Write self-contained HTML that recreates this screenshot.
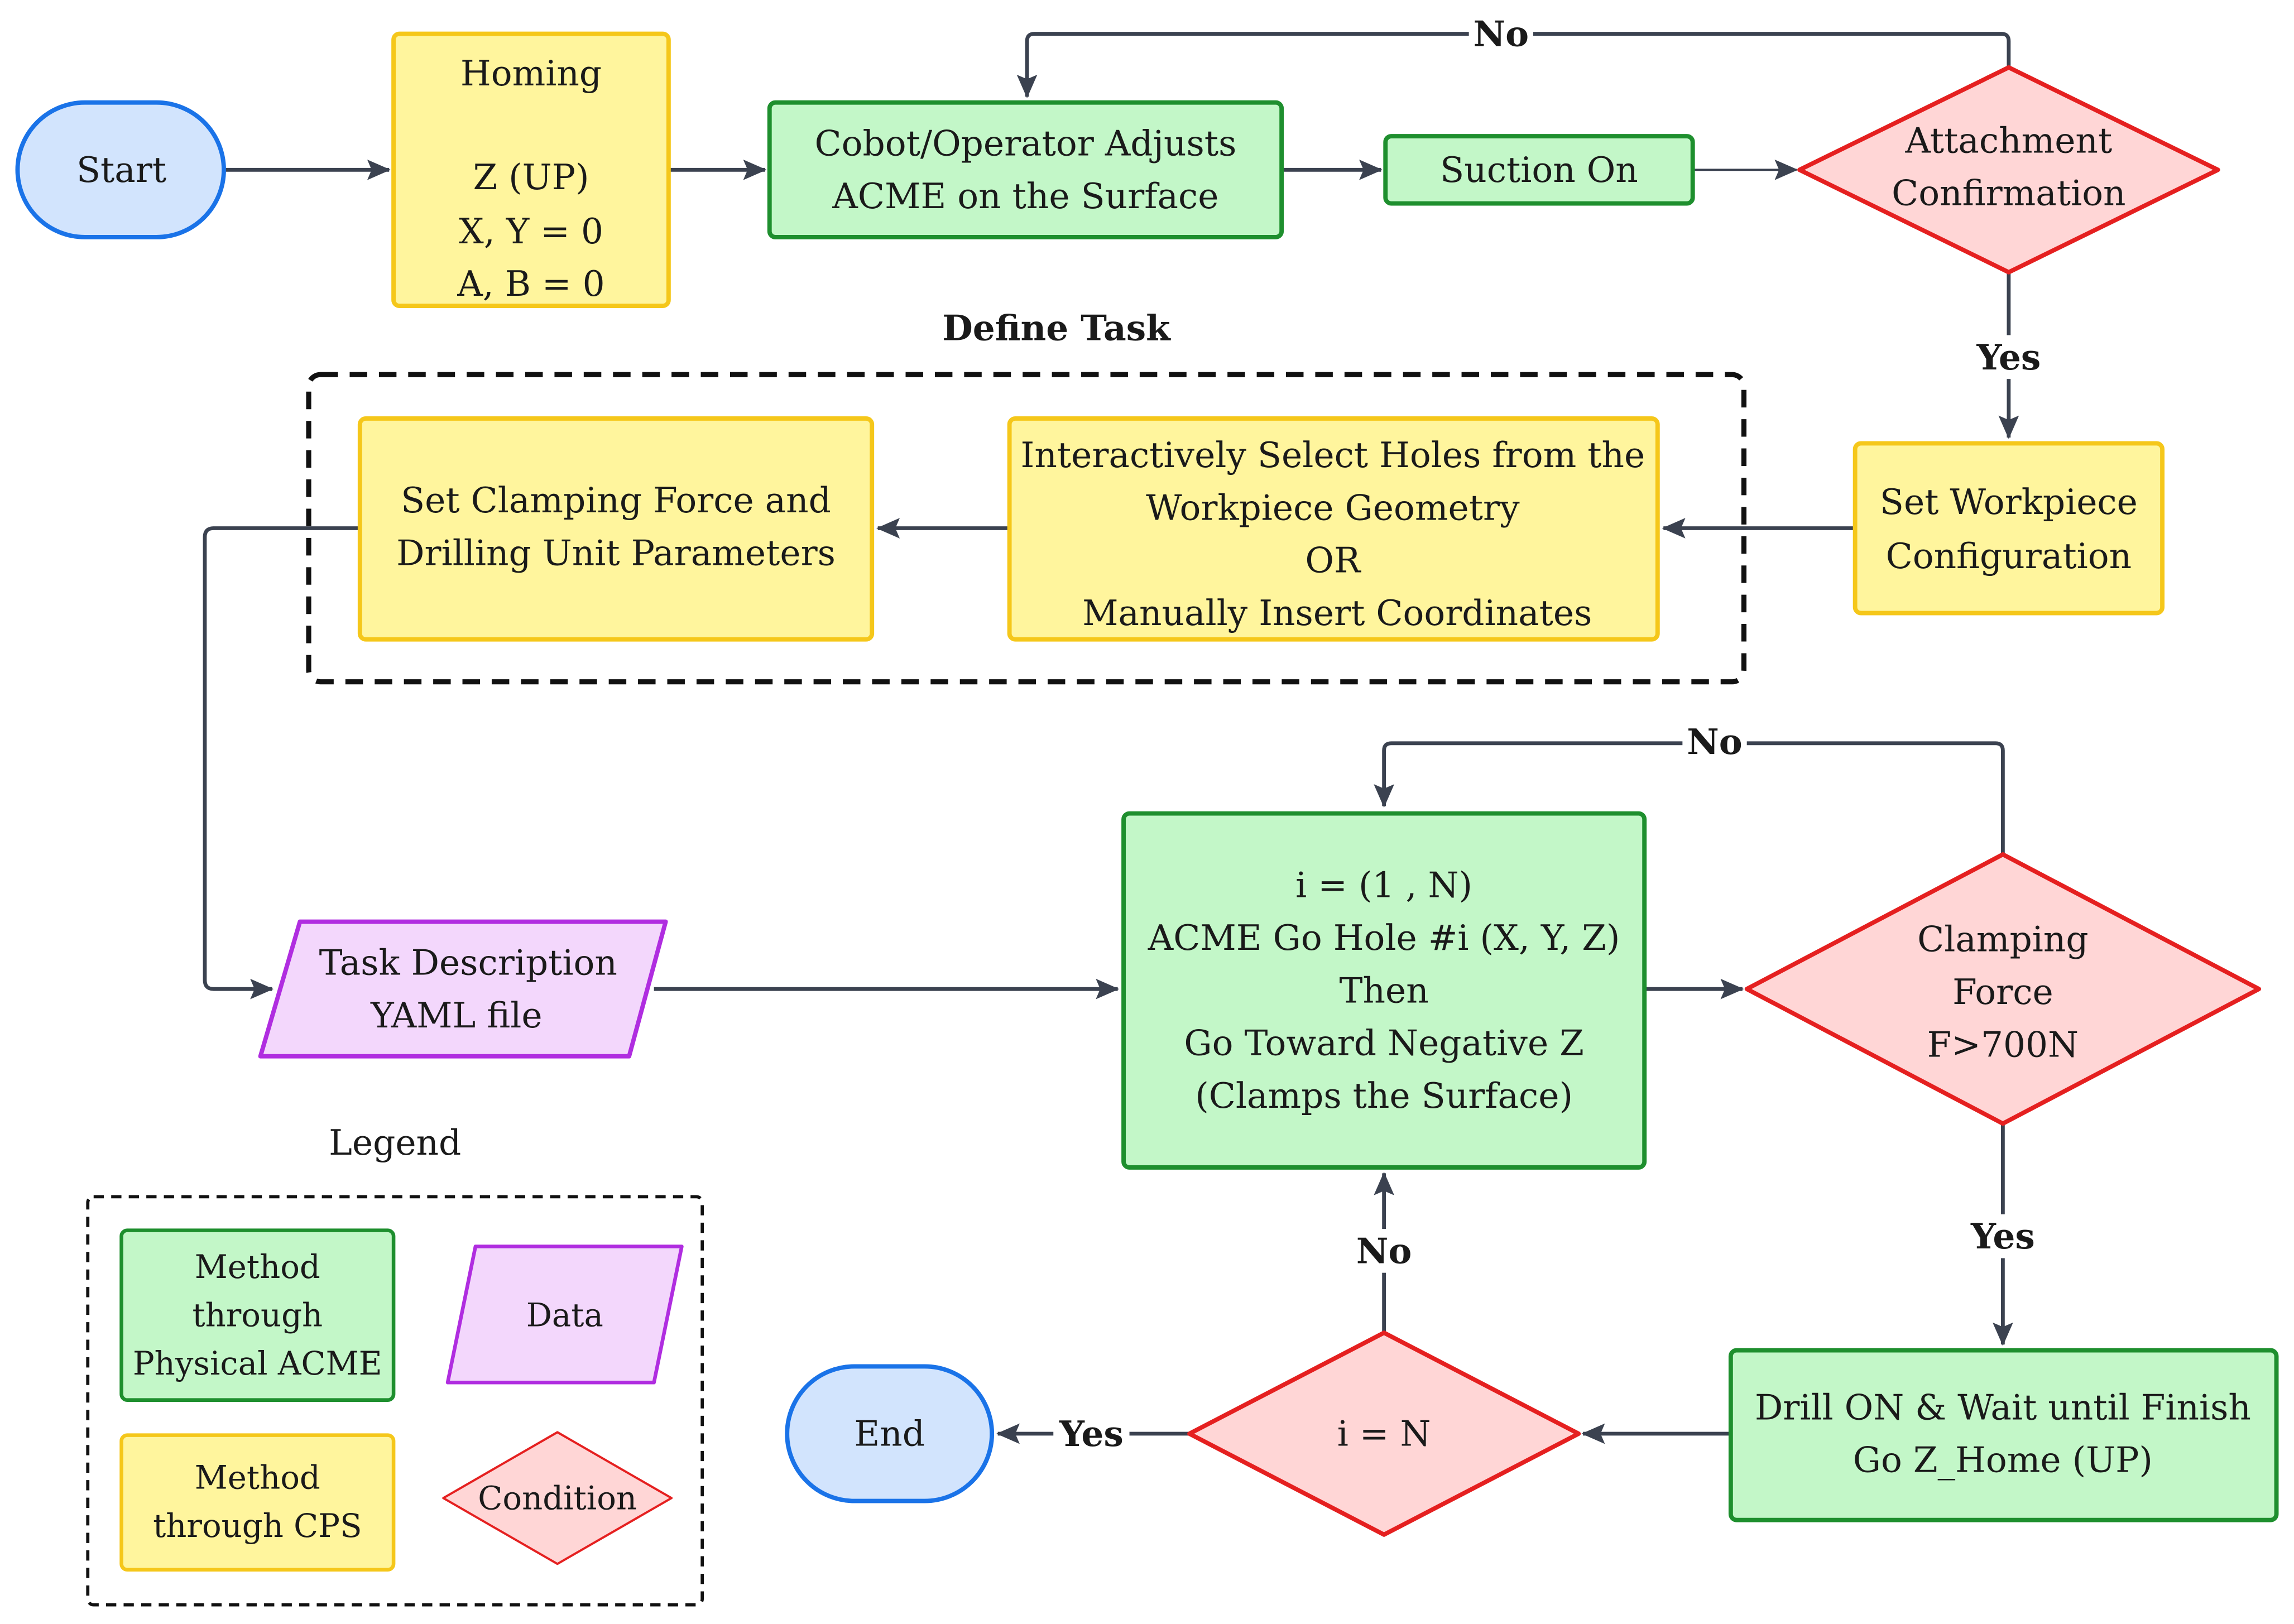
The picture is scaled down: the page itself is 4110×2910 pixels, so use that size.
<!DOCTYPE html>
<html><head><meta charset="utf-8"><style>
html,body{margin:0;padding:0;background:#fff;}
svg{display:block;}
text{font-family:"DejaVu Serif","Liberation Serif",serif;font-size:24px;fill:#1a1a1a;text-anchor:middle;dominant-baseline:central;}
.b{font-weight:bold;}
.s{font-size:22px;}
.l{stroke:#3b4250;stroke-width:2.6;fill:none;}
</style></head><body>
<svg width="4110" height="2910" viewBox="0 0 1568 1110" xmlns="http://www.w3.org/2000/svg">
<defs>
<marker id="A" markerWidth="16" markerHeight="14" refX="15" refY="7" orient="auto" markerUnits="userSpaceOnUse" viewBox="0 0 16 14"><path d="M0,0 L16,7 L0,14 L3,7 z" fill="#3b4250"/></marker></defs>
<rect width="1568" height="1110" fill="#fff"/>
<path class="l" d="M153,116 H266" marker-end="url(#A)"/>
<path class="l" d="M457,116 H523" marker-end="url(#A)"/>
<path class="l" d="M876,116 H944" marker-end="url(#A)"/>
<path class="l" d="M1157,116 H1228" marker-end="url(#A)" style="stroke-width:1.5"/>
<path class="l" d="M1373,46 V28 Q1373,23 1368,23 H707 Q702,23 702,28 V66" marker-end="url(#A)"/>
<path class="l" d="M1373,186 V299" marker-end="url(#A)"/>
<path class="l" d="M1268,361 H1137" marker-end="url(#A)"/>
<path class="l" d="M690,361 H600" marker-end="url(#A)"/>
<path class="l" d="M246,361 H146 Q140,361 140,367 V670 Q140,676 146,676 H186" marker-end="url(#A)"/>
<path class="l" d="M447,676 H764" marker-end="url(#A)"/>
<path class="l" d="M1124,676 H1191" marker-end="url(#A)"/>
<path class="l" d="M1369,584 V513 Q1369,508 1364,508 H951 Q946,508 946,513 V551" marker-end="url(#A)"/>
<path class="l" d="M1369,768 V919" marker-end="url(#A)"/>
<path class="l" d="M1183,980 H1082" marker-end="url(#A)"/>
<path class="l" d="M946,911 V802" marker-end="url(#A)"/>
<path class="l" d="M813,980 H682" marker-end="url(#A)"/>
<rect x="1004" y="8" width="44" height="30" fill="#fff"/><text x="1026" y="23" class="b">No</text>
<rect x="1345" y="229" width="56" height="30" fill="#fff"/><text x="1373" y="244" class="b">Yes</text>
<rect x="1150" y="492" width="44" height="30" fill="#fff"/><text x="1172" y="507" class="b">No</text>
<rect x="1341" y="830" width="56" height="30" fill="#fff"/><text x="1369" y="845" class="b">Yes</text>
<rect x="924" y="840" width="44" height="30" fill="#fff"/><text x="946" y="855" class="b">No</text>
<rect x="720" y="965" width="52" height="30" fill="#fff"/><text x="746" y="980" class="b">Yes</text>
<rect x="12" y="70" width="141" height="92" rx="46" fill="#d2e4fd" stroke="#1a73e8" stroke-width="3"/><text x="83" y="116">Start</text>
<rect x="269" y="23" width="188" height="186" rx="4" fill="#fff59d" stroke="#f5c71a" stroke-width="3"/>
<text x="363" y="50">Homing</text><text x="363" y="121">Z (UP)</text><text x="363" y="158">X, Y = 0</text><text x="363" y="194">A, B = 0</text>
<rect x="526" y="70" width="350" height="92" rx="4" fill="#c3f7c8" stroke="#1e8f2e" stroke-width="3"/>
<text x="701" y="98">Cobot/Operator Adjusts</text><text x="701" y="134">ACME on the Surface</text>
<rect x="947" y="93" width="210" height="46" rx="4" fill="#c3f7c8" stroke="#1e8f2e" stroke-width="3"/><text x="1052" y="116">Suction On</text>
<polygon points="1373,46 1516,116 1373,186 1230,116" fill="#ffd6d6" stroke="#e52020" stroke-width="3" stroke-linejoin="round"/>
<text x="1373" y="96">Attachment</text><text x="1373" y="132">Confirmation</text>
<rect x="1268" y="303" width="210" height="116" rx="4" fill="#fff59d" stroke="#f5c71a" stroke-width="3"/>
<text x="1373" y="343">Set Workpiece</text><text x="1373" y="380">Configuration</text>
<text x="722" y="224" class="b">Define Task</text>
<rect x="211" y="256" width="981" height="210" rx="8" fill="none" stroke="#111" stroke-width="3.5" stroke-dasharray="12,8"/>
<rect x="690" y="286" width="443" height="151" rx="4" fill="#fff59d" stroke="#f5c71a" stroke-width="3"/>
<text x="911" y="311">Interactively Select Holes from the</text><text x="911" y="347">Workpiece Geometry</text><text x="911" y="383">OR</text><text x="914" y="419">Manually Insert Coordinates</text>
<rect x="246" y="286" width="350" height="151" rx="4" fill="#fff59d" stroke="#f5c71a" stroke-width="3"/>
<text x="421" y="342">Set Clamping Force and</text><text x="421" y="378">Drilling Unit Parameters</text>
<polygon points="205,630 455,630 430,722 178,722" fill="#f3d7fc" stroke="#b02de0" stroke-width="3" stroke-linejoin="round"/>
<text x="320" y="658">Task Description</text><text x="312" y="694">YAML file</text>
<rect x="768" y="556" width="356" height="242" rx="4" fill="#c3f7c8" stroke="#1e8f2e" stroke-width="3"/>
<text x="946" y="605">i = (1 , N)</text><text x="946" y="641">ACME Go Hole #i (X, Y, Z)</text><text x="946" y="677">Then</text><text x="946" y="713">Go Toward Negative Z</text><text x="946" y="749">(Clamps the Surface)</text>
<polygon points="1369,584 1544,676 1369,768 1194,676" fill="#ffd6d6" stroke="#e52020" stroke-width="3" stroke-linejoin="round"/>
<text x="1369" y="642">Clamping</text><text x="1369" y="678">Force</text><text x="1369" y="714">F&gt;700N</text>
<rect x="1183" y="923" width="373" height="116" rx="4" fill="#c3f7c8" stroke="#1e8f2e" stroke-width="3"/>
<text x="1369" y="962">Drill ON &amp; Wait until Finish</text><text x="1369" y="998">Go Z_Home (UP)</text>
<polygon points="946,911 1079,980 946,1049 813,980" fill="#ffd6d6" stroke="#e52020" stroke-width="3" stroke-linejoin="round"/>
<text x="946" y="980">i = N</text>
<rect x="538" y="934" width="140" height="92" rx="46" fill="#d2e4fd" stroke="#1a73e8" stroke-width="3"/><text x="608" y="980">End</text>
<text x="270" y="781">Legend</text>
<rect x="60" y="818" width="420" height="279" rx="4" fill="none" stroke="#111" stroke-width="2.2" stroke-dasharray="7,5"/>
<rect x="83" y="841" width="186" height="116" rx="4" fill="#c3f7c8" stroke="#1e8f2e" stroke-width="2.5"/>
<text x="176" y="866" class="s">Method</text><text x="176" y="899" class="s">through</text><text x="176" y="932" class="s">Physical ACME</text>
<polygon points="325,852 466,852 447,945 306,945" fill="#f3d7fc" stroke="#b02de0" stroke-width="2.5" stroke-linejoin="round"/>
<text x="386" y="899" class="s">Data</text>
<rect x="83" y="981" width="186" height="92" rx="4" fill="#fff59d" stroke="#f5c71a" stroke-width="2.5"/>
<text x="176" y="1010" class="s">Method</text><text x="176" y="1043" class="s">through CPS</text>
<polygon points="381,979 459,1024 381,1069 303,1024" fill="#ffd6d6" stroke="#e52020" stroke-width="1.5" stroke-linejoin="round"/>
<text x="381" y="1024" class="s">Condition</text>
</svg>
</body></html>
